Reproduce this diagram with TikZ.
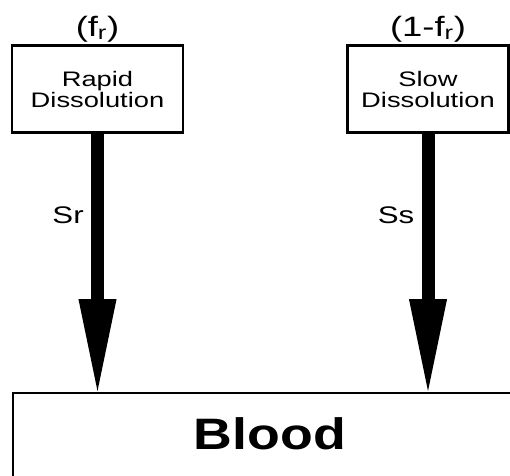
\documentclass[tikz,border=0pt]{standalone}
\usepackage{fontspec,graphicx}
\setmainfont{Liberation Sans}
\usetikzlibrary{arrows.meta,positioning}
\newcommand{\wtxt}[1]{\scalebox{1.3}[1]{#1}}

\begin{document}
\begin{tikzpicture}[x=1pt,y=-1pt,
  poolbox/.style={draw,line width=2.2pt,minimum width=#1,minimum height=87pt,
    inner sep=0pt,align=center,font=\fontsize{21}{21}\selectfont},
  flowarrow/.style={line width=13pt,-{Triangle[length=98pt,width=34pt]}},
  flowlabel/.style={font=\fontsize{24}{26}\selectfont}]
\clip (0,0) rectangle (510,475);
\node[poolbox=171pt] (rapid) at (97.5,89) {\wtxt{Rapid}\\\wtxt{Dissolution}};
\node[poolbox=161pt] (slow) at (428,89) {\wtxt{Slow}\\\wtxt{Dissolution}};
\node[font=\fontsize{28}{30}\selectfont,above=-1pt of rapid] (fr) {\wtxt{(f\textsubscript{r})}};
\node[font=\fontsize{28}{30}\selectfont,above=-1pt of slow] (onefr) {\wtxt{(1-f\textsubscript{r})}};
\node[draw,line width=2.2pt,minimum width=520pt,minimum height=120pt,anchor=north west,
  inner sep=0pt] (blood) at (12,392) {};
\node[font=\bfseries\fontsize{44}{48}\selectfont] (bloodtxt) at (270,434) {\scalebox{1.22}[1]{Blood}};
\draw[flowarrow] (rapid.south) -- node[flowlabel,pos=.31,left=4pt] {\wtxt{Sr}} ([yshift=-5pt]rapid.south |- blood.north);
\draw[flowarrow] (slow.south) -- node[flowlabel,pos=.31,left=4pt] {\wtxt{Ss}} ([yshift=-5pt]slow.south |- blood.north);
\end{tikzpicture}
\end{document}
